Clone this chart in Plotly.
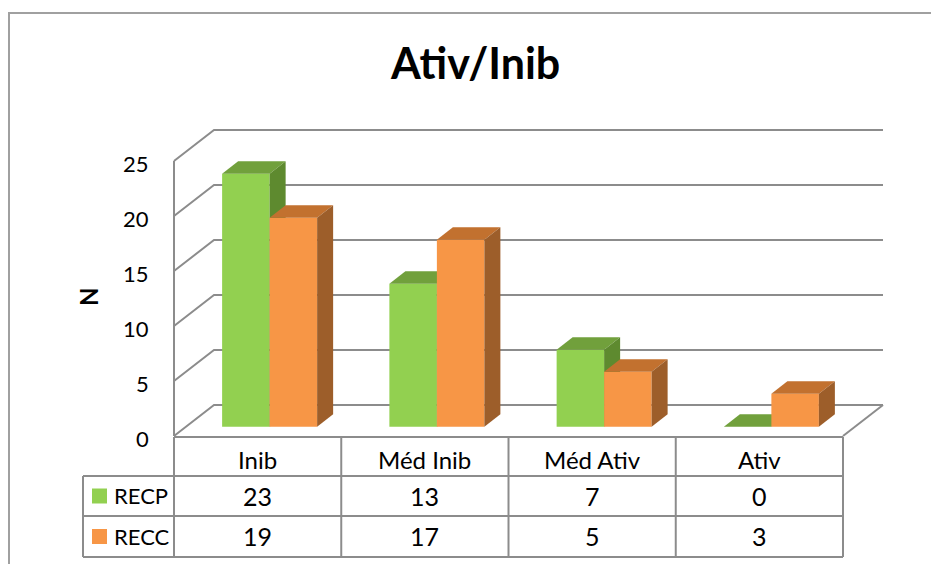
import plotly.graph_objects as go

# ---- data ----
categories = ["Inib", "Méd Inib", "Méd Ativ", "Ativ"]
series_names = ["RECP", "RECC"]
recp = [23, 13, 7, 0]
recc = [19, 17, 5, 3]
y_ticks = [0, 5, 10, 15, 20, 25]

front_colors = ["#92D050", "#F79646"]
top_colors = ["#71A03C", "#C2712F"]
side_colors = ["#5E8A2F", "#9D5E2A"]

W, H = 931, 564

# page geometry (pixels) used to set up the axes
X0 = 174.0      # left edge of the front floor
CW = 167.25     # width of one category
Y0 = 436.0      # value 0 on the front plane
PU = 11.0       # pixels per value unit

def dx(p):      # pixel x -> axis x (category units)
    return (p - X0) / CW

def dy(p):      # pixel y -> axis y (value units)
    return (Y0 - p) / PU

DEPTH_X = 40.0 / CW    # full floor depth, horizontal part
DEPTH_Y = 31.0 / PU    # full floor depth, vertical part
BAR_W = 47.5 / CW
D_FRONT, D_BACK = 0.3, 0.7
YMAX = 25
NCAT = len(categories)

fig = go.Figure()

def poly(xs, ys, fill):
    xs = list(xs) + [xs[0]]
    ys = list(ys) + [ys[0]]
    fig.add_trace(go.Scatter(
        x=xs, y=ys, mode="lines", fill="toself", fillcolor=fill,
        line=dict(width=0, color="rgba(0,0,0,0)"),
        hoverinfo="skip", showlegend=False))

GRID = "#8C8C8C"
# walls: gridlines running from the front edge back and across the back wall
for v in y_ticks:
    fig.add_trace(go.Scatter(
        x=[0, DEPTH_X, NCAT + DEPTH_X],
        y=[v, v + DEPTH_Y, v + DEPTH_Y],
        mode="lines", line=dict(color=GRID, width=2),
        hoverinfo="skip", showlegend=False))
# front edge of the side wall
fig.add_trace(go.Scatter(x=[0, 0], y=[0, YMAX], mode="lines",
                         line=dict(color=GRID, width=2),
                         hoverinfo="skip", showlegend=False))
# right edge of the floor
fig.add_trace(go.Scatter(x=[NCAT, NCAT + DEPTH_X], y=[0, DEPTH_Y], mode="lines",
                         line=dict(color=GRID, width=2),
                         hoverinfo="skip", showlegend=False))

# 3D columns
ox0, oy0 = D_FRONT * DEPTH_X, D_FRONT * DEPTH_Y
ox1, oy1 = D_BACK * DEPTH_X, D_BACK * DEPTH_Y
values = [recp, recc]
for i in range(NCAT):
    c = i + 0.5
    for s in range(2):
        v = values[s][i]
        xl = c - BAR_W if s == 0 else c
        xr = xl + BAR_W
        # front face
        if v > 0:
            poly([xl + ox0, xr + ox0, xr + ox0, xl + ox0],
                 [oy0, oy0, v + oy0, v + oy0], front_colors[s])
        # top face
        poly([xl + ox0, xr + ox0, xr + ox1, xl + ox1],
             [v + oy0, v + oy0, v + oy1, v + oy1], top_colors[s])
        # right side face
        if v > 0:
            poly([xr + ox0, xr + ox1, xr + ox1, xr + ox0],
                 [oy0, oy1, v + oy1, v + oy0], side_colors[s])

shapes = []
TL = "#8C8C8C"
# chart frame (left and top edges)
shapes.append(dict(type="path", xref="x", yref="y",
                   path=f"M {dx(9)},{dy(H + 2)} L {dx(9)},{dy(13)} L {dx(W + 2)},{dy(13)}",
                   line=dict(color="#A0A0A0", width=2)))

# data table grid
row_top, row1, row2, row_bot = 437, 476, 516, 557
tx_left = 83
shapes.append(dict(type="line", xref="x", yref="y", x0=0, x1=NCAT,
                   y0=dy(row_top), y1=dy(row_top), line=dict(color=TL, width=2)))
for yy in (row1, row2, row_bot):
    shapes.append(dict(type="line", xref="x", yref="y", x0=dx(tx_left), x1=NCAT,
                       y0=dy(yy), y1=dy(yy), line=dict(color=TL, width=2)))
for k in range(NCAT + 1):
    shapes.append(dict(type="line", xref="x", yref="y", x0=k, x1=k,
                       y0=dy(row_top), y1=dy(row_bot), line=dict(color=TL, width=2)))
shapes.append(dict(type="line", xref="x", yref="y", x0=dx(tx_left), x1=dx(tx_left),
                   y0=dy(row1), y1=dy(row_bot), line=dict(color=TL, width=2)))

# legend keys inside the table
for s, (ya, yb) in enumerate([(row1, row2), (row2, row_bot)]):
    cy = (ya + yb) / 2
    shapes.append(dict(type="rect", xref="x", yref="y",
                       x0=dx(92), x1=dx(107), y0=dy(cy - 7.5), y1=dy(cy + 7.5),
                       fillcolor=front_colors[s], line=dict(width=0)))

FONT = "Lato"
ann = []
ann.append(dict(text="<b>Ativ/Inib</b>", x=dx(475), y=dy(62), xref="x", yref="y",
                showarrow=False, font=dict(family=FONT, size=43, color="#000000"),
                xanchor="center", yanchor="middle"))
ann.append(dict(text="<b>N</b>", x=dx(88), y=dy(297), xref="x", yref="y",
                showarrow=False, textangle=-90,
                font=dict(family=FONT, size=24, color="#000000"),
                xanchor="center", yanchor="middle"))
for v in y_ticks:
    ann.append(dict(text=str(v), x=dx(151), y=v, yshift=-2, xref="x", yref="y",
                    showarrow=False, font=dict(family=FONT, size=22, color="#000000"),
                    xanchor="right", yanchor="middle"))
for i, cat in enumerate(categories):
    ann.append(dict(text=cat, x=i + 0.5, y=dy(459), xref="x", yref="y",
                    showarrow=False, font=dict(family=FONT, size=24, color="#000000"),
                    xanchor="center", yanchor="middle"))
    for s, yy in enumerate([(row1 + row2) / 2, (row2 + row_bot) / 2]):
        ann.append(dict(text=str(values[s][i]), x=i + 0.5, y=dy(yy - 0.5),
                        xref="x", yref="y", showarrow=False,
                        font=dict(family=FONT, size=25, color="#000000"),
                        xanchor="center", yanchor="middle"))
for s, yy in enumerate([(row1 + row2) / 2, (row2 + row_bot) / 2]):
    ann.append(dict(text=series_names[s], x=dx(112), y=dy(yy - 0.5), xref="x", yref="y",
                    showarrow=False, font=dict(family=FONT, size=22, color="#000000"),
                    xanchor="left", yanchor="middle"))

fig.update_layout(
    width=W, height=H, autosize=False,
    margin=dict(l=0, r=0, t=0, b=0),
    paper_bgcolor="#FFFFFF", plot_bgcolor="#FFFFFF",
    showlegend=False,
    xaxis=dict(range=[dx(0), dx(W)], visible=False, fixedrange=True),
    yaxis=dict(range=[dy(H), dy(0)], visible=False, fixedrange=True),
    shapes=shapes, annotations=ann,
)

fig.write_html("out.html")
